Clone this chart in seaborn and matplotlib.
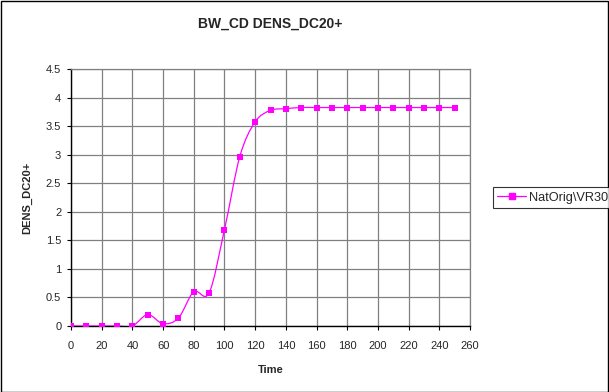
import numpy as np
import pandas as pd
import matplotlib
matplotlib.use("Agg")
import matplotlib.pyplot as plt
from matplotlib.path import Path
from matplotlib.patches import PathPatch, Rectangle
from matplotlib.lines import Line2D
import seaborn as sns


time = [0, 10, 20, 30, 40, 50, 60, 70, 80, 90, 100, 110, 120, 130,
        140, 150, 160, 170, 180, 190, 200, 210, 220, 230, 240, 250]
dens = [0.0, 0.0, 0.0, 0.0, 0.0, 0.2, 0.04, 0.14, 0.6, 0.58, 1.69, 2.97, 3.58, 3.78,
        3.81, 3.83, 3.83, 3.83, 3.83, 3.83, 3.83, 3.83, 3.83, 3.83, 3.83, 3.83]
series_name = "NatOrig\\VR30"

df = pd.DataFrame({"Time": time, "DENS_DC20+": dens})

sns.set_theme(style="white")
plt.rcParams["font.family"] = ["Liberation Sans", "DejaVu Sans"]

color = "#FF00FF"

fig = plt.figure(figsize=(6.09, 3.92), dpi=100)
ax = fig.add_axes([71 / 609, 1 - 326 / 392, (470 - 71) / 609, (326 - 69.3) / 392])

# smoothed line like excel: bezier through the points
x = np.array(time, dtype=float)
y = np.array(dens, dtype=float)
verts = [(x[0], y[0])]
codes = [Path.MOVETO]
n = len(x)
for i in range(n - 1):
    p0 = (x[max(i - 1, 0)], y[max(i - 1, 0)])
    p1 = (x[i], y[i])
    p2 = (x[i + 1], y[i + 1])
    p3 = (x[min(i + 2, n - 1)], y[min(i + 2, n - 1)])
    c1 = (p1[0] + (p2[0] - p0[0]) / 6, p1[1] + (p2[1] - p0[1]) / 6)
    c2 = (p2[0] - (p3[0] - p1[0]) / 6, p2[1] - (p3[1] - p1[1]) / 6)
    verts += [c1, c2, p2]
    codes += [Path.CURVE4] * 3
ax.add_patch(PathPatch(Path(verts, codes), facecolor="none", edgecolor=color, lw=0.9, zorder=3))

sns.scatterplot(data=df, x="Time", y="DENS_DC20+", ax=ax, marker="s", s=24,
                color=color, edgecolor=color, linewidth=0, zorder=4, legend=False)

ax.set_xlim(0, 260)
ax.set_ylim(0, 4.5)
ax.set_xticks(np.arange(0, 261, 20))
ax.set_yticks(np.arange(0, 4.51, 0.5))
ax.set_yticklabels(["0", "0.5", "1", "1.5", "2", "2.5", "3", "3.5", "4", "4.5"])
ax.grid(True, color="#808080", lw=0.9)
ax.set_axisbelow(True)
for s in ["top", "right"]:
    ax.spines[s].set_color("#808080")
    ax.spines[s].set_linewidth(0.9)
for s in ["left", "bottom"]:
    ax.spines[s].set_color("black")
    ax.spines[s].set_linewidth(1.0)
ax.tick_params(axis="both", direction="out", length=3, width=0.8, color="black",
               labelsize=8, bottom=True, left=True)
ax.tick_params(axis="x", pad=8)
ax.tick_params(axis="y", pad=4)

ax.set_xlabel("Time", fontsize=8, fontweight="bold", labelpad=10)
ax.set_ylabel("DENS_DC20+", fontsize=8, fontweight="bold", labelpad=10)
fig.text(270 / 609, 1 - 24 / 392, "BW_CD DENS_DC20+", ha="center", va="center",
         fontsize=10, fontweight="bold")

handle = Line2D([], [], color=color, marker="s", markersize=4.5, lw=0.9)
leg = fig.legend([handle], [series_name], loc="center left",
                 bbox_to_anchor=(493 / 609, 1 - 197.5 / 392), borderaxespad=0,
                 fontsize=9.2, frameon=True, fancybox=False, edgecolor="black",
                 handlelength=2.2, borderpad=0.35, handletextpad=0.3)
leg.get_frame().set_linewidth(0.8)

fig.patches.append(Rectangle((0.5 / 609, 0.5 / 392), 607.5 / 609, 390.5 / 392,
                             transform=fig.transFigure, fill=False,
                             edgecolor="black", lw=1.0))

fig.savefig("out.png", dpi=100)
